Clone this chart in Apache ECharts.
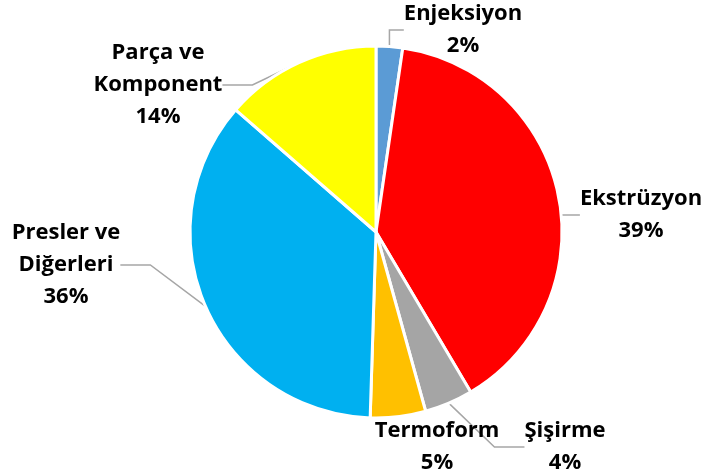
<!DOCTYPE html>
<html>
<head>
<meta charset="utf-8">
<script src="https://cdn.jsdelivr.net/npm/echarts@6/dist/echarts.min.js"></script>
<style>
  html, body { margin: 0; padding: 0; background: #fff; }
  #pieMain { width: 703px; height: 475px; }
</style>
</head>
<body>
<div id="pieMain"></div>
<script>
// sektör payları (%)
var names = ['Enjeksiyon', 'Ekstrüzyon', 'Şişirme', 'Termoform', 'Presler ve\nDiğerleri', 'Parça ve\nKomponent'];
var values = [2.3, 39.2, 4.2, 4.8, 35.9, 13.6];
var colors = ['#5B9BD5', '#FF0000', '#A5A5A5', '#FFC000', '#00B0F0', '#FFFF00'];

// etiket merkezleri (piksel)
var labelPos = [[463, 30], [641, 215], [565, 447], [437, 447], [66, 265], [158, 85]];

var myChart = echarts.init(document.getElementById('pieMain'));
var dataList = [];
for (var i = 0; i < names.length; i++) {
  dataList.push({
    name: names[i],
    value: values[i],
    itemStyle: { color: colors[i] },
    labelLine: { show: i !== 3 }
  });
}

var option = {
  animation: false,
  series: [{
    type: 'pie',
    center: [376, 232],
    radius: 186,
    startAngle: 90,
    clockwise: true,
    percentPrecision: 0,
    itemStyle: { borderColor: '#fff', borderWidth: 3 },
    label: {
      show: true,
      position: 'outside',
      formatter: '{b}\n{d}%',
      fontFamily: 'Open Sans',
      fontWeight: 'bold',
      fontSize: 22,
      lineHeight: 32,
      color: '#000',
      align: 'center',
      overflow: 'none'
    },
    labelLine: {
      show: true,
      lineStyle: { color: '#A6A6A6', width: 1.5 }
    },
    labelLayout: function (params) {
      var p = labelPos[params.dataIndex];
      return { x: p[0], y: p[1], align: 'center', verticalAlign: 'middle' };
    },
    data: dataList
  }]
};
myChart.setOption(option);
</script>
</body>
</html>
